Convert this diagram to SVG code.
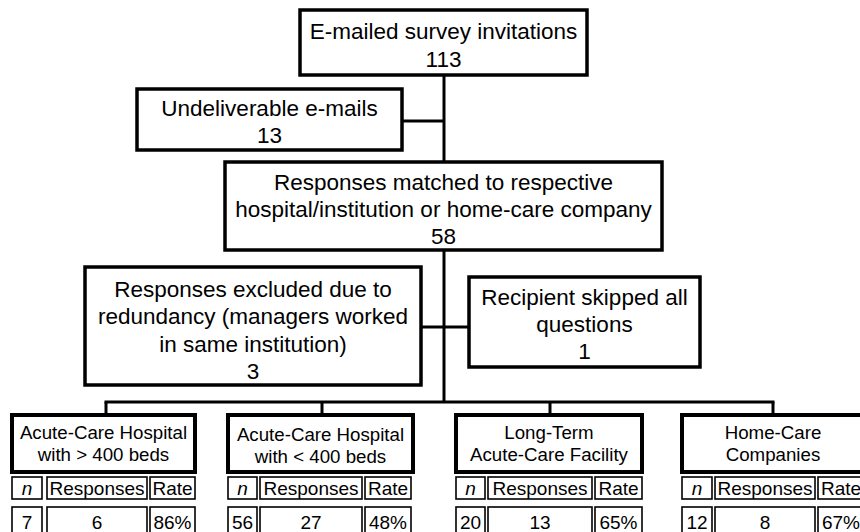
<svg xmlns="http://www.w3.org/2000/svg" width="860" height="532" viewBox="0 0 860 532">
<style>
  .bx{fill:#fff;stroke:#000;stroke-width:3.5}
  .cb{fill:#fff;stroke:#000;stroke-width:4}
  .cell{fill:#fff;stroke:#000;stroke-width:1.6}
  .ln{stroke:#000;stroke-width:3;fill:none}
  text{font-family:"Liberation Sans",Arial,sans-serif;fill:#000;text-anchor:middle}
  .t{font-size:22.5px}
  .c{font-size:18.7px}
  .s{font-size:19px}
  .i{font-style:italic}
</style>
<rect width="860" height="532" fill="#fff"/>
<g id="connectors">
  <line class="ln" x1="444" y1="75" x2="444" y2="162"/>
  <line class="ln" x1="402" y1="121" x2="444" y2="121"/>
  <line class="ln" x1="444" y1="250" x2="444" y2="403"/>
  <line class="ln" x1="421" y1="327" x2="469" y2="327"/>
  <line class="ln" x1="104.5" y1="402" x2="774.5" y2="402"/>
  <line class="ln" x1="106" y1="402" x2="106" y2="415"/>
  <line class="ln" x1="322" y1="402" x2="322" y2="415"/>
  <line class="ln" x1="550" y1="402" x2="550" y2="415"/>
  <line class="ln" x1="773" y1="402" x2="773" y2="415"/>
</g>
<g id="invitations">
  <rect class="bx" x="300" y="10" width="287" height="65"/>
  <text class="t" x="443.5" y="39">E-mailed survey invitations</text>
  <text class="t" x="443.5" y="67">113</text>
</g>
<g id="undeliverable">
  <rect class="bx" x="137" y="89" width="265" height="61"/>
  <text class="t" x="269.5" y="116">Undeliverable e-mails</text>
  <text class="t" x="269.5" y="143">13</text>
</g>
<g id="matched">
  <rect class="bx" x="225" y="162" width="437" height="88"/>
  <text class="t" x="443.5" y="190">Responses matched to respective</text>
  <text class="t" x="443.5" y="217">hospital/institution or home-care company</text>
  <text class="t" x="443.5" y="244">58</text>
</g>
<g id="excluded">
  <rect class="bx" x="85" y="267" width="336" height="118"/>
  <text class="t" x="253" y="297">Responses excluded due to</text>
  <text class="t" x="253" y="324">redundancy (managers worked</text>
  <text class="t" x="253" y="352">in same institution)</text>
  <text class="t" x="253" y="379">3</text>
</g>
<g id="skipped">
  <rect class="bx" x="469" y="277" width="231" height="90"/>
  <text class="t" x="584.5" y="305">Recipient skipped all</text>
  <text class="t" x="584.5" y="332">questions</text>
  <text class="t" x="584.5" y="359">1</text>
</g>
<g id="acute-large">
  <rect class="cb" x="12" y="415" width="183" height="57"/>
  <text class="c" x="103.5" y="439">Acute-Care Hospital</text>
  <text class="c" x="103.5" y="461">with &gt; 400 beds</text>
  <rect class="cell" x="12" y="477" width="30" height="22"/>
  <rect class="cell" x="47" y="477" width="100" height="22"/>
  <rect class="cell" x="150" y="477" width="45" height="22"/>
  <text class="s i" x="27" y="495">n</text>
  <text class="s" x="97" y="495">Responses</text>
  <text class="s" x="172.5" y="495">Rate</text>
  <rect class="cell" x="12" y="507" width="30" height="34"/>
  <rect class="cell" x="47" y="507" width="100" height="34"/>
  <rect class="cell" x="150" y="507" width="45" height="34"/>
  <text class="s" x="27" y="529">7</text>
  <text class="s" x="97" y="529">6</text>
  <text class="s" x="172.5" y="529">86%</text>
</g>
<g id="acute-small">
  <rect class="cb" x="228" y="415" width="185" height="57"/>
  <text class="c" x="320.5" y="441">Acute-Care Hospital</text>
  <text class="c" x="320.5" y="463">with &lt; 400 beds</text>
  <rect class="cell" x="228" y="477" width="29" height="22"/>
  <rect class="cell" x="260" y="477" width="102" height="22"/>
  <rect class="cell" x="365" y="477" width="46" height="22"/>
  <text class="s i" x="242.5" y="495">n</text>
  <text class="s" x="311" y="495">Responses</text>
  <text class="s" x="388" y="495">Rate</text>
  <rect class="cell" x="228" y="507" width="29" height="34"/>
  <rect class="cell" x="260" y="507" width="102" height="34"/>
  <rect class="cell" x="365" y="507" width="46" height="34"/>
  <text class="s" x="242.5" y="529">56</text>
  <text class="s" x="311" y="529">27</text>
  <text class="s" x="388" y="529">48%</text>
</g>
<g id="long-term">
  <rect class="cb" x="456" y="415" width="186" height="57"/>
  <text class="c" x="549" y="439">Long-Term</text>
  <text class="c" x="549" y="461">Acute-Care Facility</text>
  <rect class="cell" x="456" y="477" width="29" height="22"/>
  <rect class="cell" x="488" y="477" width="104" height="22"/>
  <rect class="cell" x="595" y="477" width="47" height="22"/>
  <text class="s i" x="470.5" y="495">n</text>
  <text class="s" x="540" y="495">Responses</text>
  <text class="s" x="618.5" y="495">Rate</text>
  <rect class="cell" x="456" y="507" width="29" height="34"/>
  <rect class="cell" x="488" y="507" width="104" height="34"/>
  <rect class="cell" x="595" y="507" width="47" height="34"/>
  <text class="s" x="470.5" y="529">20</text>
  <text class="s" x="540" y="529">13</text>
  <text class="s" x="618.5" y="529">65%</text>
</g>
<g id="home-care">
  <rect class="cb" x="682" y="415" width="182" height="57"/>
  <text class="c" x="773" y="439">Home-Care</text>
  <text class="c" x="773" y="461">Companies</text>
  <rect class="cell" x="682" y="477" width="30" height="22"/>
  <rect class="cell" x="715" y="477" width="100" height="22"/>
  <rect class="cell" x="818" y="477" width="46" height="22"/>
  <text class="s i" x="697" y="495">n</text>
  <text class="s" x="765" y="495">Responses</text>
  <text class="s" x="841" y="495">Rate</text>
  <rect class="cell" x="682" y="507" width="30" height="34"/>
  <rect class="cell" x="715" y="507" width="100" height="34"/>
  <rect class="cell" x="818" y="507" width="46" height="34"/>
  <text class="s" x="697" y="529">12</text>
  <text class="s" x="765" y="529">8</text>
  <text class="s" x="841" y="529">67%</text>
</g>
</svg>
